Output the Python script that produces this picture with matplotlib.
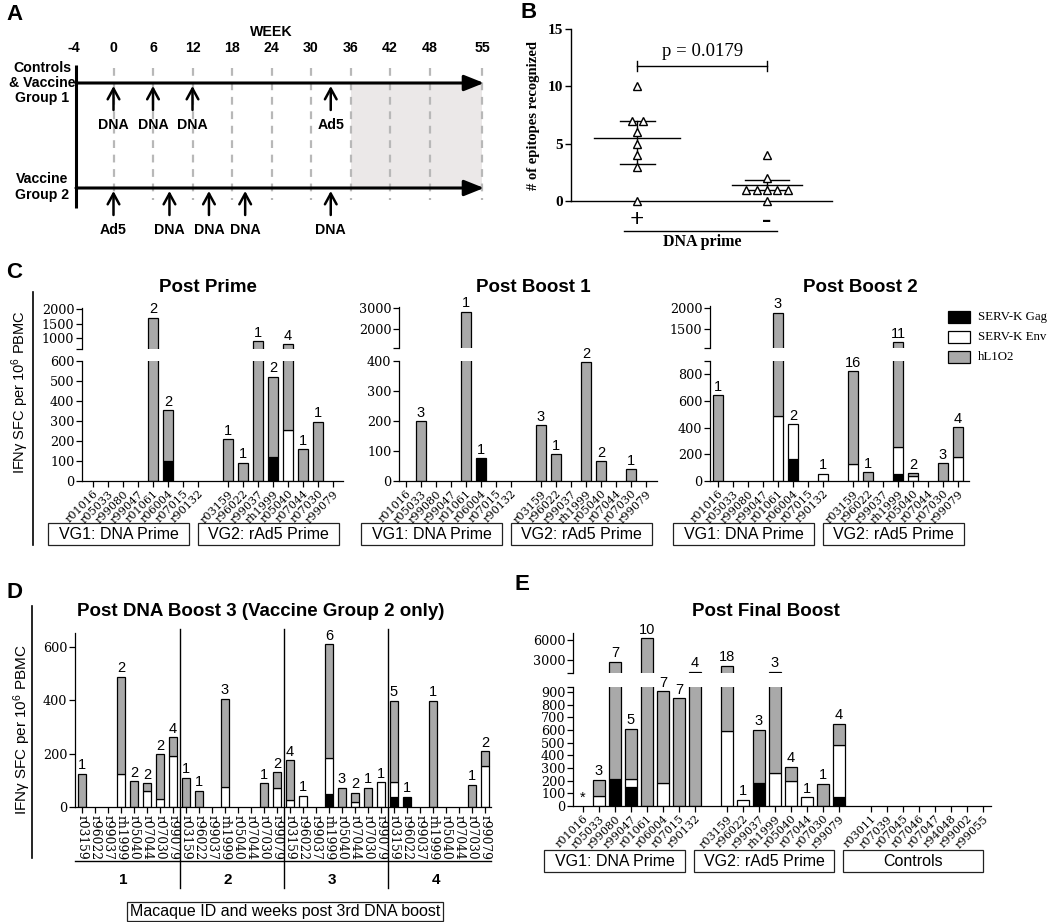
import numpy as np
import matplotlib
matplotlib.use('Agg')
import matplotlib.pyplot as plt
from matplotlib.patches import Rectangle
from matplotlib.lines import Line2D
import matplotlib.transforms as mtransforms

plt.rcParams['mathtext.default'] = 'regular'

# ---------------- DATA ----------------
# Panel A: vaccination schedule
weeks = [-4, 0, 6, 12, 18, 24, 30, 36, 42, 48, 55]
vg1_weeks = [0, 6, 12, 33]
vg1_vacc = ['DNA', 'DNA', 'DNA', 'Ad5']
vg2_weeks = [0, 8.5, 14.5, 20, 33]
vg2_vacc = ['Ad5', 'DNA', 'DNA', 'DNA', 'DNA']
shade_from_week = 36

# Panel B: epitopes recognized
dna_plus = [10, 7, 7, 6, 5, 4, 3, 0]
dna_minus = [4, 2, 1, 1, 1, 1, 1, 0]
plus_summary = [5.5, 3.25, 7.0]     # centre, lower, upper
minus_summary = [1.4, 0.95, 1.8]
p_text = 'p = 0.0179'

# animal IDs
vg1_ids = ['r01016', 'r05033', 'r99080', 'r99047', 'r01061', 'r06004', 'r07015', 'r90132']
vg2_ids = ['r03159', 'r96022', 'r99037', 'rh1999', 'r05040', 'r07044', 'r07030', 'r99079']
ctrl_ids = ['r03011', 'r07039', 'r07045', 'r07046', 'r07047', 'r94048', 'r99002', 'r99055']
legend_labels = ['SERV-K Gag', 'SERV-K Env', 'hL1O2']

# Panel C: Post Prime (VG1 then VG2)
prime_gag = [0, 0, 0, 0, 0, 98, 0, 0, 0, 0, 0, 120, 0, 0, 0, 0]
prime_env = [0, 0, 0, 0, 0, 0, 0, 0, 0, 0, 0, 0, 255, 0, 0, 0]
prime_hl1 = [0, 0, 0, 0, 1700, 257, 0, 0, 210, 92, 895, 402, 535, 160, 296, 0]
prime_n = ['', '', '', '', '2', '2', '', '', '1', '1', '1', '2', '4', '1', '1', '']

# Panel C: Post Boost 1
b1_gag = [0, 0, 0, 0, 0, 75, 0, 0, 0, 0, 0, 0, 0, 0, 0, 0]
b1_env = [0, 0, 0, 0, 0, 0, 0, 0, 0, 0, 0, 0, 0, 0, 0, 0]
b1_hl1 = [0, 200, 0, 0, 2820, 0, 0, 0, 185, 90, 0, 395, 65, 0, 40, 0]
b1_n = ['', '3', '', '', '1', '1', '', '', '3', '1', '', '2', '2', '', '1', '']

# Panel C: Post Boost 2
b2_gag = [0, 0, 0, 0, 0, 168, 0, 0, 0, 0, 0, 55, 0, 0, 0, 0]
b2_env = [0, 0, 0, 0, 488, 257, 0, 55, 130, 0, 0, 200, 35, 0, 0, 180]
b2_hl1 = [643, 0, 0, 0, 1392, 0, 0, 0, 695, 65, 0, 928, 25, 0, 135, 225]
b2_n = ['1', '', '', '', '3', '2', '', '1', '16', '1', '', '11', '2', '', '3', '4']

# Panel D: Post DNA Boost 3, VG2 only, weeks 1-4 (8 animals each)
d3_weeks = ['1', '2', '3', '4']
d3_gag = [0, 0, 0, 0, 0, 0, 0, 0,
          0, 0, 0, 0, 0, 0, 0, 0,
          0, 0, 0, 50, 0, 0, 0, 0,
          38, 38, 0, 0, 0, 0, 0, 0]
d3_env = [0, 0, 0, 122, 0, 60, 30, 191,
          0, 0, 0, 75, 0, 0, 0, 73,
          28, 43, 0, 132, 0, 19, 0, 93,
          55, 0, 0, 0, 0, 0, 0, 154]
d3_hl1 = [125, 0, 0, 367, 97, 30, 167, 71,
          110, 61, 0, 331, 0, 0, 90, 57,
          147, 0, 0, 428, 73, 35, 73, 0,
          305, 0, 0, 398, 0, 0, 84, 54]
d3_n = ['1', '', '', '2', '2', '2', '2', '4',
        '1', '1', '', '3', '', '', '1', '2',
        '4', '1', '', '6', '3', '2', '1', '1',
        '5', '1', '', '1', '', '', '1', '2']

# Panel E: Post Final Boost (VG1, VG2, Controls)
fb_gag = [0, 0, 210, 150, 0, 0, 0, 0, 0, 0, 182, 0, 0, 0, 0, 71, 0, 0, 0, 0, 0, 0, 0, 0]
fb_env = [0, 79, 0, 60, 0, 182, 0, 0, 590, 50, 0, 263, 200, 71, 0, 413, 0, 0, 0, 0, 0, 0, 0, 0]
fb_hl1 = [0, 129, 2540, 400, 6250, 723, 853, 1250, 1560, 0, 421, 987, 110, 0, 176, 166, 0, 0, 0, 0, 0, 0, 0, 0]
fb_n = ['*', '3', '7', '5', '10', '7', '7', '4', '18', '1', '3', '3', '4', '1', '1', '4', '', '', '', '', '', '', '', '']

# ---------------- FIGURE ----------------
W, H = 1050, 922
fig = plt.figure(figsize=(10.5, 9.22), dpi=100)
SANS = 'Liberation Sans'
SERIF = 'DejaVu Serif'
TSERIF = 'Liberation Serif'
GRAY = '#a9a9a9'


def add_ax(l, t, r, b):
    return fig.add_axes([l / W, 1 - b / H, (r - l) / W, (b - t) / H])


def fy(py):
    return 1 - py / H


def fxp(px):
    return px / W


def fig_line(x0, y0, x1, y1, lw=1.0, color='k'):
    fig.add_artist(Line2D([fxp(x0), fxp(x1)], [fy(y0), fy(y1)], color=color, lw=lw))


# panel letters
for lab, (px, py) in zip('ABCDE', [(14, 15), (529, 12), (14, 272), (14, 592), (522, 584)]):
    fig.text(fxp(px), fy(py), lab, fontsize=16, fontweight='bold', family=SANS, ha='center', va='center')

# ---------------- PANEL A ----------------
axA = add_ax(0, 0, 520, 265)
X0, PX = 74, 39.5
pos = np.arange(len(weeks), dtype=float)
pos[-1] += 0.33
axA.set_xlim(-X0 / PX, (520 - X0) / PX)
axA.set_ylim(265, 0)
axA.axis('off')


def wpos(w):
    return np.interp(w, weeks, pos)


def pxA(px):
    return (px - X0) / PX


bfont = dict(fontsize=10.2, fontweight='bold', family=SANS)
axA.text(wpos(24), 32, 'WEEK', ha='center', va='center', **bfont)
for w, p in zip(weeks, pos):
    axA.text(p, 48, str(w), ha='center', va='center', **bfont)
    if w != weeks[0]:
        axA.plot([p, p], [68, 200], color='#b8b8b8', lw=1.6, ls=(0, (3.5, 3)), zorder=1)
axA.add_patch(Rectangle((wpos(shade_from_week), 83), pos[-1] - wpos(shade_from_week), 105,
                        fc='#ebe8e8', ec='none', zorder=0))
axA.plot([pxA(76)] * 2, [65, 208], color='k', lw=2.2, solid_capstyle='butt')
for yy in [83, 188]:
    axA.annotate('', xy=(pos[-1] + 0.05, yy), xytext=(pxA(76), yy),
                 arrowprops=dict(arrowstyle='-|>,head_length=0.8,head_width=0.32', lw=2.2, color='k',
                                 mutation_scale=15, shrinkA=0, shrinkB=0), zorder=3)
for w, lab in zip(vg1_weeks, vg1_vacc):
    axA.annotate('', xy=(wpos(w), 86), xytext=(wpos(w), 110),
                 arrowprops=dict(arrowstyle='->,head_length=0.55,head_width=0.3', lw=1.8, color='k',
                                 mutation_scale=14, shrinkA=0, shrinkB=0))
    axA.text(wpos(w), 125, lab, ha='center', va='center', **bfont)
for w, lab in zip(vg2_weeks, vg2_vacc):
    axA.annotate('', xy=(wpos(w), 191), xytext=(wpos(w), 215),
                 arrowprops=dict(arrowstyle='->,head_length=0.55,head_width=0.3', lw=1.8, color='k',
                                 mutation_scale=14, shrinkA=0, shrinkB=0))
    axA.text(wpos(w), 230, lab, ha='center', va='center', **bfont)
axA.text(pxA(42), 83, 'Controls\n& Vaccine\nGroup 1', ha='center', va='center', linespacing=1.1, **bfont)
axA.text(pxA(42), 187, 'Vaccine\nGroup 2', ha='center', va='center', linespacing=1.1, **bfont)

# ---------------- PANEL B ----------------
axB = add_ax(571, 29, 832, 201)
axB.set_xlim(0.49, 2.5)
axB.set_ylim(0, 15)
for s in ['top', 'right']:
    axB.spines[s].set_visible(False)
axB.spines['left'].set_linewidth(1.0)
axB.spines['bottom'].set_linewidth(1.0)
axB.set_xticks([])
axB.set_yticks([0, 5, 10, 15])
axB.set_yticklabels(['0', '5', '10', '15'], family=TSERIF, fontweight='bold', fontsize=11)
axB.tick_params(axis='y', direction='out', length=4, width=1, pad=2)
axB.set_ylabel('# of epitopes recognized', family=TSERIF, fontweight='bold', fontsize=10.5, labelpad=5)
for gx, vals, spacing, summ, mhw, shw in [(1, dna_plus, 0.085, plus_summary, 0.33, 0.135),
                                          (2, dna_minus, 0.08, minus_summary, 0.27, 0.17)]:
    vals = np.asarray(vals, float)
    xs = np.zeros_like(vals)
    for v in np.unique(vals):
        idx = np.where(vals == v)[0]
        xs[idx] = gx + (np.arange(len(idx)) - (len(idx) - 1) / 2) * spacing
    c, lo, hi = summ
    axB.plot([gx - mhw, gx + mhw], [c, c], color='k', lw=1.0, zorder=2)
    axB.plot([gx - shw, gx + shw], [lo, lo], color='k', lw=1.0, zorder=2)
    axB.plot([gx - shw, gx + shw], [hi, hi], color='k', lw=1.0, zorder=2)
    axB.plot([gx, gx], [lo, hi], color='k', lw=1.0, zorder=2)
    axB.plot(xs, vals, ls='none', marker='^', mfc='white', mec='k', ms=6.2, mew=1.0, zorder=3, clip_on=False)
axB.plot([1, 2], [11.8, 11.8], color='k', lw=1.0)
axB.plot([1, 1], [11.35, 12.25], color='k', lw=1.0)
axB.plot([2, 2], [11.35, 12.25], color='k', lw=1.0)
axB.text(1.5, 12.3, p_text, ha='center', va='bottom', family=TSERIF, fontsize=13.5)
fig.text(fxp(637), fy(221), '+', ha='center', va='center', family=TSERIF, fontsize=18, fontweight='bold')
fig.text(fxp(767), fy(220), '-', ha='center', va='center', family=TSERIF, fontsize=20, fontweight='bold')
fig_line(624, 231, 777, 231, lw=1.0)
fig.text(fxp(702), fy(242), 'DNA prime', ha='center', va='center', family=TSERIF, fontsize=11.5, fontweight='bold')


# ---------------- BAR PANEL HELPERS ----------------
def make_ax(spine, idx0, sp, right, top, bottom):
    ax = add_ax(spine, top, right, bottom)
    ax.set_xlim((spine - idx0) / sp, (right - idx0) / sp)
    return ax


def draw_stack(ax, x, gag, env, hl1, width):
    gag = np.asarray(gag, float)
    env = np.asarray(env, float)
    hl1 = np.asarray(hl1, float)
    for vals, base, col in [(gag, np.zeros_like(gag), 'black'), (env, gag, 'white'), (hl1, gag + env, GRAY)]:
        m = vals > 0
        ax.bar(x[m], vals[m], bottom=base[m], width=width, color=col, edgecolor='k', linewidth=0.9, zorder=2)
    return gag + env + hl1


def style_lower(ax, ylim, yticks, x, names, rot):
    ax.set_ylim(*ylim)
    for s in ['top', 'right']:
        ax.spines[s].set_visible(False)
    for s in ['left', 'bottom']:
        ax.spines[s].set_linewidth(0.9)
    ax.set_yticks(yticks)
    ax.set_yticklabels([str(t) for t in yticks], family=SERIF, fontsize=9.2)
    ax.set_yticks([ylim[1]], minor=True)
    ax.set_xticks(x)
    if rot == 45:
        ax.set_xticklabels(names, rotation=45, ha='right', va='top', rotation_mode='anchor',
                           family=SERIF, fontsize=8.1)
    else:
        ax.set_xticklabels(names, rotation=270, ha='center', va='top', family=SERIF, fontsize=8.8)
    ax.tick_params(axis='both', which='both', direction='out', length=4, width=0.9, pad=1.5)


def style_upper(ax, ylim, yticks):
    ax.set_ylim(*ylim)
    for s in ['top', 'right', 'bottom']:
        ax.spines[s].set_visible(False)
    ax.spines['left'].set_linewidth(0.9)
    ax.set_xticks([])
    ax.set_yticks(yticks)
    ax.set_yticklabels([str(t) for t in yticks], family=SERIF, fontsize=9.2)
    ax.set_yticks([ylim[0]], minor=True)
    ax.tick_params(axis='y', which='both', direction='out', length=4, width=0.9, pad=1.5)


def draw_counts(ax_lo, ax_up, x, totals, counts, lo_top):
    for xi, t, c in zip(x, totals, counts):
        if not c:
            continue
        target = ax_up if (ax_up is not None and t > lo_top) else ax_lo
        target.annotate(c, (xi, t), xytext=(0, 1), textcoords='offset points', ha='center', va='bottom',
                        family=SANS, fontsize=10.5, annotation_clip=False)


def group_boxes(ax, spans, labels, ytop, ybot, fs=11.5):
    tr = mtransforms.blended_transform_factory(ax.transData, fig.transFigure)
    for (a, b), lab in zip(spans, labels):
        ax.add_patch(Rectangle((a, fy(ybot)), b - a, fy(ytop) - fy(ybot), transform=tr, fill=False,
                               ec='#222222', lw=0.9, clip_on=False))
        ax.text((a + b) / 2, fy((ytop + ybot) / 2), lab, transform=tr, ha='center', va='center',
                family=SANS, fontsize=fs, clip_on=False)


def ylabel_with_bar(px, py, line_x, line_top, line_bot, fs):
    fig.text(fxp(px), fy(py), 'IFNγ SFC per 10$^{6}$ PBMC', rotation=90, ha='center', va='center',
             family=SANS, fontsize=fs)
    fig_line(line_x, line_top, line_x, line_bot, lw=1.2)


# ---------------- PANEL C ----------------
c_ids = vg1_ids + vg2_ids
c_x = np.concatenate([np.arange(8), np.arange(8) + 9]).astype(float)
c_specs = [
    ('Post Prime', 208, 82, 93, 343, (0, 600), list(range(0, 601, 100)), (620, 2035), [1000, 1500, 2000], (308, 349),
     prime_gag, prime_env, prime_hl1, prime_n),
    ('Post Boost 1', 533, 399, 406, 657, (0, 400), list(range(0, 401, 100)), (1100, 3050), [2000, 3000], (307, 348),
     b1_gag, b1_env, b1_hl1, b1_n),
    ('Post Boost 2', 860, 710, 718, 969, (0, 900), list(range(0, 801, 200)), (1050, 2040), [1500, 2000], (306, 348),
     b2_gag, b2_env, b2_hl1, b2_n),
]
for (title, tx, spine, idx0, right, lo_yl, lo_t, up_yl, up_t, (ut, ub), g, e, h, n) in c_specs:
    lo = make_ax(spine, idx0, 15, right, 361, 481)
    up = make_ax(spine, idx0, 15, right, ut, ub)
    tot = draw_stack(lo, c_x, g, e, h, 0.67)
    draw_stack(up, c_x, g, e, h, 0.67)
    style_lower(lo, lo_yl, lo_t, c_x, c_ids, 45)
    style_upper(up, up_yl, up_t)
    draw_counts(lo, up, c_x, tot, n, lo_yl[1])
    group_boxes(lo, [(-3.0, 6.43), (7.0, 16.43)], ['VG1: DNA Prime', 'VG2: rAd5 Prime'], 523, 545)
    fig.text(fxp(tx), fy(287), title, ha='center', va='center', family=SANS, fontsize=13.5, fontweight='bold')

ylabel_with_bar(20, 392, 33, 292, 545, 10.5)

# legend
for i, (lab, col) in enumerate(zip(legend_labels, ['black', 'white', GRAY])):
    y0 = 311 + i * 20
    fig.add_artist(Rectangle((fxp(948), fy(y0 + 12)), 22 / W, 12 / H, transform=fig.transFigure,
                             fc=col, ec='k', lw=0.9))
    fig.text(fxp(978), fy(y0 + 6), lab, ha='left', va='center', family=TSERIF, fontsize=9.3)

# ---------------- PANEL D ----------------
d_ids = vg2_ids * len(d3_weeks)
d_x = np.arange(len(d_ids), dtype=float)
axD = make_ax(75, 82, 13, 491, 633, 807)
totD = draw_stack(axD, d_x, d3_gag, d3_env, d3_hl1, 0.64)
style_lower(axD, (0, 652), [0, 200, 400, 600], d_x, d_ids, 270)
axD.set_yticks([], minor=True)
draw_counts(axD, None, d_x, totD, d3_n, 1e9)
trD = mtransforms.blended_transform_factory(axD.transData, fig.transFigure)
xl = axD.get_xlim()
axD.add_line(Line2D([xl[0], xl[1]], [fy(861)] * 2, transform=trD, color='k', lw=1.0, clip_on=False))
for k in range(1, len(d3_weeks)):
    sx = k * len(vg2_ids) - 0.5
    axD.add_line(Line2D([sx, sx], [fy(629), fy(888)], transform=trD, color='k', lw=1.0, clip_on=False))
for k, wl in enumerate(d3_weeks):
    cx = k * len(vg2_ids) + (len(vg2_ids) - 1) / 2 - 0.3
    axD.text(cx, fy(880), wl, transform=trD, ha='center', va='center', family=SANS, fontsize=11,
             fontweight='bold', clip_on=False)
group_boxes(axD, [((127 - 82) / 13, (443 - 82) / 13)], ['Macaque ID and weeks post 3rd DNA boost'], 902, 921)
fig.text(fxp(261), fy(611), 'Post DNA Boost 3 (Vaccine Group 2 only)', ha='center', va='center',
         family=SANS, fontsize=13.5, fontweight='bold')
ylabel_with_bar(22, 730, 32, 606, 858, 11)

# ---------------- PANEL E ----------------
e_ids = vg1_ids + vg2_ids + ctrl_ids
e_x = np.concatenate([np.arange(8), np.arange(8) + 9, np.arange(8) + 18]).astype(float)
loE = make_ax(573, 583, 16, 991, 687, 806)
upE = make_ax(573, 583, 16, 991, 633, 673)
totE = draw_stack(loE, e_x, fb_gag, fb_env, fb_hl1, 0.7)
draw_stack(upE, e_x, fb_gag, fb_env, fb_hl1, 0.7)
style_lower(loE, (0, 940), list(range(0, 901, 100)), e_x, e_ids, 45)
style_upper(upE, (1050, 7050), [3000, 6000])
draw_counts(loE, upE, e_x, totE, fb_n, 940)
group_boxes(loE, [(-2.44, 6.38), (6.94, 15.7), (16.25, 25.0)], ['VG1: DNA Prime', 'VG2: rAd5 Prime', 'Controls'],
            850, 872)
fig.text(fxp(766), fy(611), 'Post Final Boost', ha='center', va='center', family=SANS, fontsize=13.5,
         fontweight='bold')

fig.savefig('out.png', dpi=100)
